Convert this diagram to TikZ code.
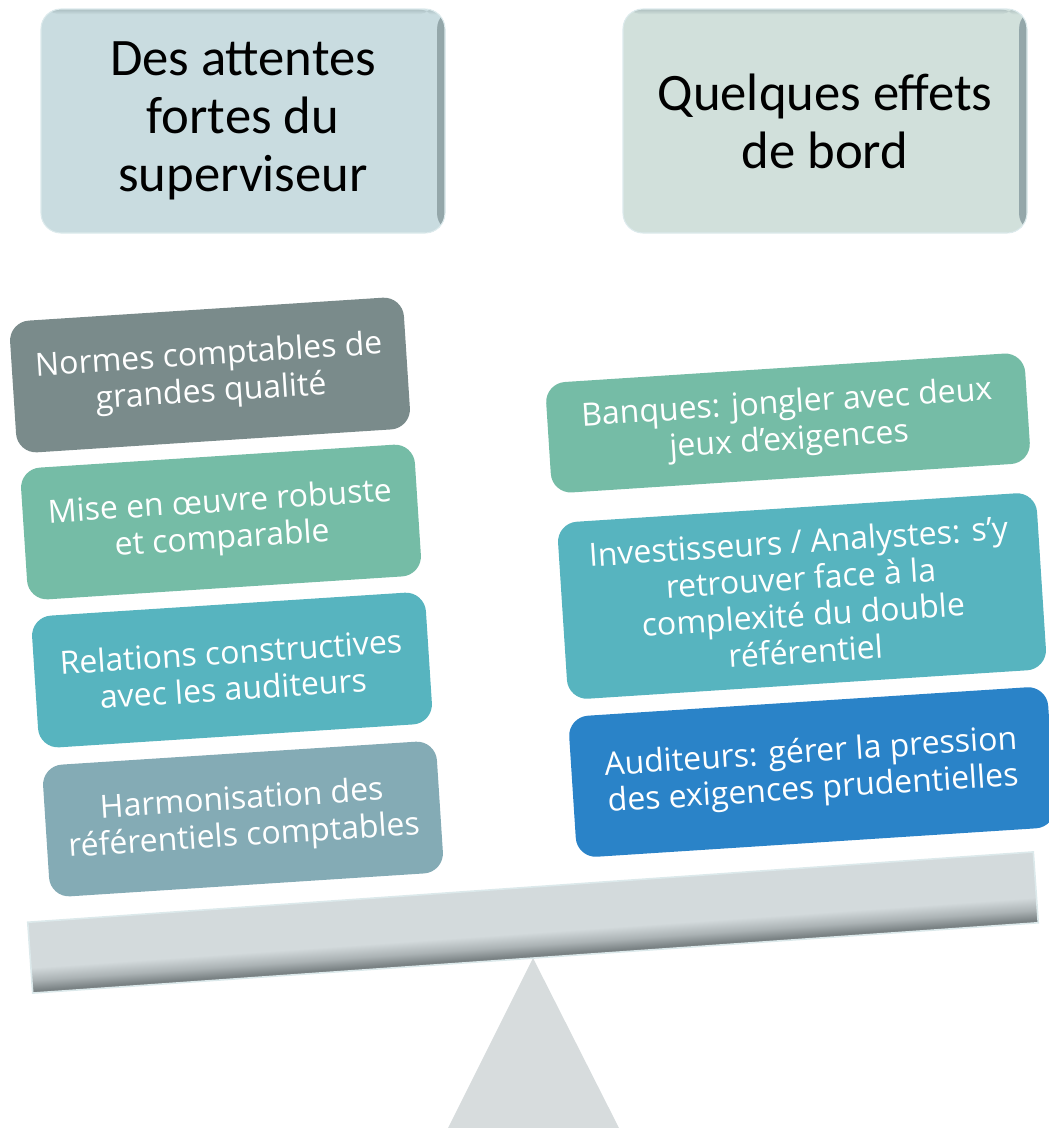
\documentclass[tikz,border=0pt]{standalone}
\usepackage{fontspec}
\newfontfamily\titlefont{Carlito}
\newfontfamily\boxfont{Open Sans}
\usetikzlibrary{positioning}

\definecolor{titleleft}{HTML}{C9DCE0}
\definecolor{titleright}{HTML}{D1E0DB}
\definecolor{titleedge}{HTML}{93A6A9}
\definecolor{titlerim}{HTML}{DCEAEC}
\definecolor{normes}{HTML}{7A8B8B}
\definecolor{vert}{HTML}{75BCA6}
\definecolor{turquoise}{HTML}{57B4BF}
\definecolor{grisbleu}{HTML}{84ABB5}
\definecolor{bleu}{HTML}{2A83C8}
\definecolor{beamlight}{HTML}{D3DADC}
\definecolor{beamdark}{HTML}{7A8284}
\definecolor{beamrim}{HTML}{DCE9EB}
\definecolor{pivot}{HTML}{D7DCDD}

% ombre du fleau : sombre en bas
\pgfdeclareverticalshading{beamshade}{100bp}{color(0bp)=(beamdark); color(27bp)=(beamdark); color(34bp)=(beamdark!45!beamlight); color(43bp)=(beamlight); color(100bp)=(beamlight)}

\tikzset{
  titlebox/.style={rounded corners=15pt, minimum width=303pt, minimum height=168pt,
    inner sep=0pt, align=center, fill=#1, draw=titlerim, line width=0.8pt,
    font=\titlefont\fontsize{39.5}{43.5}\selectfont,
    path picture={
      \fill[left color=#1, right color=titleedge]
        ([xshift=-6pt]path picture bounding box.north east) rectangle (path picture bounding box.south east);
      \fill[top color=titleedge!55!#1, bottom color=#1]
        (path picture bounding box.north west) rectangle ([yshift=-4pt,xshift=-6pt]path picture bounding box.north east);
    }},
  leftbox/.style={rotate=3.7, rounded corners=15pt, minimum width=296pt, minimum height=99pt,
    inner sep=0pt, align=center, text=white, fill=#1,
    font=\boxfont\fontsize{24}{27.5}\selectfont},
  rightbox/.style={leftbox=#1, minimum width=360pt}
}

\begin{document}
\begin{tikzpicture}[x=0.75pt, y=-0.75pt]
    \useasboundingbox (0,0) rectangle (1049,1128);

    % Titres
    \node[titlebox=titleleft] (attentes) at (243,121) {Des attentes\\fortes du\\superviseur};
    \node[titlebox=titleright] (effets) at (825,121) {Quelques effets\\de bord};

    % Plateau gauche
    \node[leftbox=normes] (normes) at (210,375) {Normes comptables de\\grandes qualité};
    \node[leftbox=vert] (robuste) at (221,522) {Mise en œuvre robuste\\et comparable};
    \node[leftbox=turquoise] (relations) at (232,670) {Relations constructives\\avec les auditeurs};
    \node[leftbox=grisbleu] (harmonisation) at (243,819) {Harmonisation des\\référentiels comptables};

    % Plateau droit
    \node[rightbox=vert, minimum height=83pt] (banques) at (788,423) {Banques: jongler avec deux\\jeux d’exigences};
    \node[rightbox=turquoise, minimum height=133pt] (investisseurs) at (802,596) {Investisseurs / Analystes: s’y\\retrouver face à la\\complexité du double\\référentiel};
    \node[rightbox=bleu, minimum height=106pt] (auditeurs) at (812,772) {Auditeurs: gérer la pression\\des exigences prudentielles};

    % Pivot
    \fill[pivot] (533,958) -- (619,1128) -- (448,1128) -- cycle;

    % Fleau
    \begin{scope}[transform canvas={rotate around={4:(533,922.5)}}]
    \path[shading=beamshade, draw=beamrim, line width=1.2pt]
    (29,887) rectangle (1037,958);
    \end{scope}
\end{tikzpicture}
\end{document}
